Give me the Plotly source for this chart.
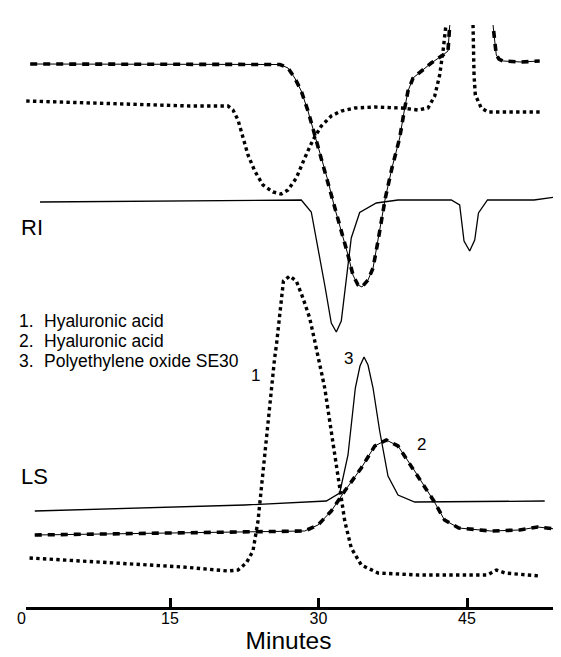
import plotly.graph_objects as go

# ---------------- data: retention time (minutes) and detector response (arb. units) -------------
# RI detector
ri1_t = [0.48, 16.99, 20.86, 21.36, 21.87, 22.37, 22.88, 23.56, 24.39, 25.40, 26.24, 26.92, 27.76,
         28.61, 29.44, 30.28, 31.29, 32.30, 33.66, 35.68, 38.39, 40.05, 41.06, 41.74, 42.24, 42.58,
         42.91, 42.95, None, 45.61, 45.61, 45.71, 45.84, 46.44, 47.12, 52.51]
ri1_v = [50.6, 50.1, 50.1, 49.7, 48.7, 46.9, 45.2, 43.6, 42.2, 41.5, 41.3, 41.7, 42.9,
         44.9, 46.7, 48.1, 49.1, 49.6, 49.9, 50.0, 49.9, 49.7, 49.9, 51.1, 53.2, 55.6,
         58.1, 58.9, None, 58.9, 58.2, 53.2, 51.2, 49.9, 49.5, 49.5]

ri2_t = [0.88, 25.40, 26.11, 26.92, 27.60, 28.26, 28.94, 29.62, 30.28, 30.96, 31.64, 32.30, 32.98,
         33.48, 33.99, 34.39, 35.00, 35.51, 36.01, 36.52, 36.75, 37.42, 38.20, 38.71, 39.04, 39.55,
         40.56, 41.39, 42.58, 43.08, 43.25, 43.33, None, 47.63, 47.63, 47.80, 47.96, 48.23, 48.64,
         50.48, 52.34]
ri2_v = [54.3, 54.3, 54.25, 53.9, 52.9, 51.6, 49.6, 47.2, 44.9, 42.6, 39.9, 37.6, 35.2,
         33.2, 32.2, 32.0, 32.7, 33.9, 36.6, 39.6, 40.9, 43.9, 46.9, 49.9, 51.6, 52.9,
         53.7, 54.4, 55.2, 55.6, 58.1, 58.9, None, 58.9, 58.2, 56.6, 55.2, 54.8, 54.6,
         54.5, 54.6]

ri3_t = [1.87, 17.49, 25.91, 28.26, 29.27, 29.78, 29.95, 30.63, 31.29, 31.80, 32.30, 32.81, 33.31,
         34.16, 35.84, 38.03, 43.41, 44.26, 44.70, 45.27, 45.78, 46.16, 47.07, 51.77, 53.93, 55.30]
ri3_v = [40.5, 40.6, 40.7, 40.7, 39.5, 36.9, 35.9, 32.2, 28.4, 27.5, 28.6, 32.6, 36.9,
         39.45, 40.4, 40.7, 40.7, 40.2, 36.6, 35.6, 36.7, 39.4, 40.7, 40.7, 41.0, 41.0]

# LS detector
ls1_t = [0.81, 9.44, 16.31, 20.86, 21.87, 22.71, 23.38, 23.89, 24.22, 24.57, 24.90, 25.24, 25.57,
         25.75, 26.11, 26.46, 27.09, 27.76, 28.43, 29.11, 29.62, 30.12, 30.63, 31.13, 31.64, 32.14,
         32.65, 33.31, 34.32, 36.01, 40.05, 47.07, 47.97, 48.84, 52.32]
ls1_v = [4.9, 4.4, 4.0, 3.6, 3.7, 4.4, 5.6, 8.6, 11.9, 15.2, 18.6, 21.9, 24.9,
         26.2, 29.6, 32.6, 33.1, 32.6, 30.9, 28.9, 26.6, 24.2, 21.9, 18.6, 15.2, 11.9,
         8.6, 5.9, 4.2, 3.4, 3.2, 3.2, 3.7, 3.4, 3.1]

ls2_t = [1.34, 20.32, 28.61, 29.95, 31.29, 32.65, 34.32, 35.68, 36.85, 38.03, 39.72, 41.65, 42.73,
         44.17, 47.42, 50.32, 52.13, 53.93]
ls2_v = [7.2, 7.5, 7.6, 8.2, 9.6, 11.6, 13.9, 16.1, 16.7, 16.1, 13.6, 10.6, 8.7,
         7.9, 7.6, 7.7, 8.0, 7.8]

ls3_t = [1.34, 22.55, 30.79, 32.14, 32.98, 33.38, 33.72, 34.19, 34.60, 35.00, 35.51, 36.18, 37.02,
         38.03, 39.72, 52.85]
ls3_v = [9.6, 10.2, 10.6, 11.4, 15.2, 18.6, 21.9, 24.1, 25.0, 24.2, 21.9, 17.6, 13.1,
         11.2, 10.5, 10.6]

tick_vals = [0, 15, 30, 45]
tick_text = ["0", "15", "30", "45"]
legend_nums = ["1.", "2.", "3."]
legend_names = ["Hyaluronic acid", "Hyaluronic acid", "Polyethylene oxide SE30"]
peak_labels = ["1", "2", "3"]
peak_pos_t = [23.59, 40.45, 32.98]
peak_pos_v = [23.2, 16.3, 24.9]

# ---------------- figure -------------
FONT = "Liberation Sans, Arial, sans-serif"
fig = go.Figure()


def add_solid(t, v, xa="x2"):
    fig.add_trace(go.Scatter(x=t, y=v, xaxis=xa, mode="lines", line=dict(color="black", width=1.3),
                             hoverinfo="skip", showlegend=False))


def add_dotted(t, v, xa="x2"):
    fig.add_trace(go.Scatter(x=t, y=v, xaxis=xa, mode="lines",
                             line=dict(color="black", width=3.4, dash="3.4px,3.3px"),
                             hoverinfo="skip", showlegend=False))


def add_dashed(t, v, xa="x2"):
    fig.add_trace(go.Scatter(x=t, y=v, xaxis=xa, mode="lines", line=dict(color="black", width=1),
                             hoverinfo="skip", showlegend=False))
    fig.add_trace(go.Scatter(x=t, y=v, xaxis=xa, mode="lines",
                             line=dict(color="black", width=3.6, dash="7px,6px"),
                             hoverinfo="skip", showlegend=False))


add_dotted(ri1_t, ri1_v)
add_dashed(ri2_t, ri2_v)
add_solid(ri3_t, ri3_v, xa="x")     # runs to the right edge of the page
add_dotted(ls1_t, ls1_v)
add_dashed(ls2_t, ls2_v)
add_solid(ls3_t, ls3_v)

annotations = [
    dict(x=-0.28, y=38.0, text="RI", font=dict(size=22)),
    dict(x=-0.28, y=13.1, text="LS", font=dict(size=22)),
]
leg_y = [28.6, 26.6, 24.6]
for num, name, yy in zip(legend_nums, legend_names, leg_y):
    annotations.append(dict(x=-0.45, y=yy, text=num, font=dict(size=17.5)))
    annotations.append(dict(x=2.07, y=yy, text=name, font=dict(size=17.5)))
for lab, tt, vv in zip(peak_labels, peak_pos_t, peak_pos_v):
    annotations.append(dict(x=tt, y=vv, text=lab, font=dict(size=17), xanchor="center"))

for a in annotations:
    a.setdefault("xanchor", "left")
    a["yanchor"] = "middle"
    a["showarrow"] = False
    a["xref"] = "x"
    a["yref"] = "y"
    a["font"]["family"] = FONT
    a["font"]["color"] = "black"

fig.update_layout(
    width=561, height=657,
    margin=dict(l=0, r=0, t=17, b=58, pad=0),
    paper_bgcolor="white", plot_bgcolor="rgba(0,0,0,0)",
    font=dict(family=FONT, color="black"),
    showlegend=False,
    xaxis=dict(domain=[0, 1], range=[-1.3636, 55.303], tickmode="array", tickvals=tick_vals,
               ticktext=tick_text, ticks="", showline=False, showgrid=False, zeroline=False,
               tickfont=dict(size=16, family=FONT, color="black"), ticklabelstandoff=0,
               title=dict(text="Minutes", font=dict(size=24.5, family=FONT, color="black"), standoff=4)),
    xaxis2=dict(domain=[18 / 561, 557 / 561], anchor="y", range=[0.4545, 54.899],
                tickmode="array", tickvals=[15, 30, 45], ticks="inside", ticklen=9, tickwidth=3,
                tickcolor="black", showticklabels=False, showline=True, linewidth=2.5,
                linecolor="black", showgrid=False, zeroline=False),
    yaxis=dict(range=[0, 58.2], visible=False),
    annotations=annotations,
)

fig.write_html("out.html")
